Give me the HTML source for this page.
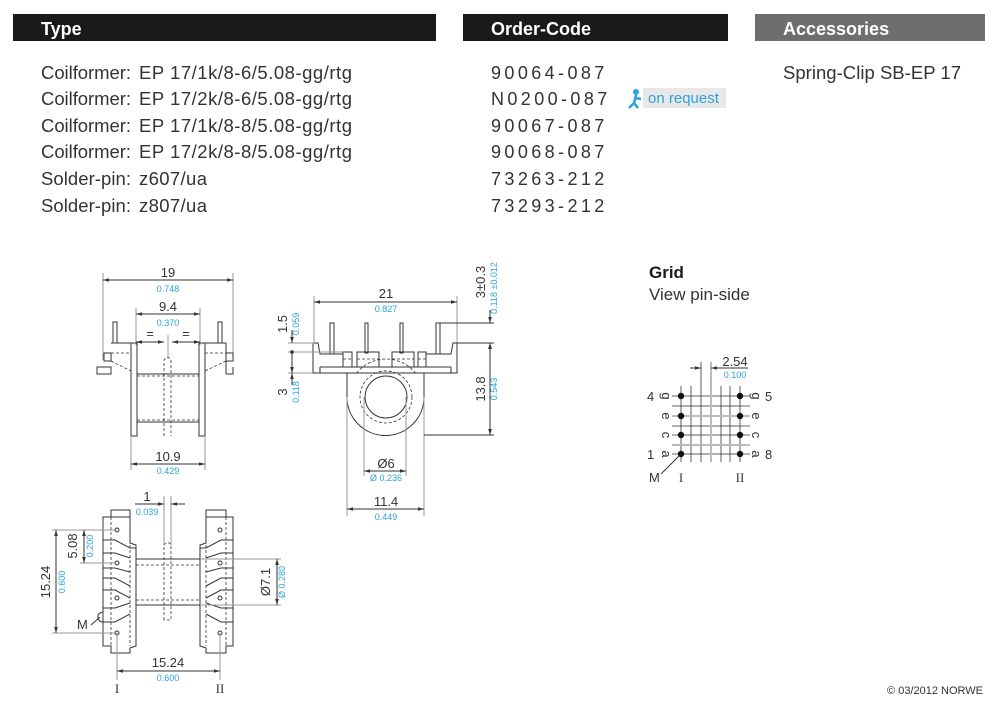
<!DOCTYPE html>
<html><head><meta charset="utf-8"><style>
body{margin:0;background:#fff;}
svg{display:block;font-family:"Liberation Sans",sans-serif;}
.t{font-size:18.5px;fill:#333;}
.c{font-size:18px;fill:#333;letter-spacing:3.4px;}
.k{stroke:#333;stroke-width:1;fill:none;}
.g{stroke:#999;stroke-width:1;fill:none;}
.d{stroke:#333;stroke-width:0.8;fill:none;stroke-dasharray:3 2;}
.n{font-size:13px;fill:#333;text-anchor:middle;}
.b{font-size:9px;fill:#2aa3dc;text-anchor:middle;}
</style></head><body>
<svg width="1000" height="713" viewBox="0 0 1000 713">
<defs><marker id="a" viewBox="0 0 10 10" refX="10" refY="5" markerWidth="6" markerHeight="6" orient="auto-start-reverse"><path d="M0,2 L10,5 L0,8z" fill="#333"/></marker></defs>
<rect x="13" y="14" width="423" height="27" fill="#1a1a1a"/>
<rect x="463" y="14" width="265" height="27" fill="#1a1a1a"/>
<rect x="755" y="14" width="230" height="27" fill="#6e6e6e"/>
<g font-weight="bold" font-size="18" fill="#fff"><text x="41" y="35">Type</text><text x="491" y="35">Order-Code</text><text x="783" y="35">Accessories</text></g>
<g class="t">
<text x="41" y="79" textLength="90">Coilformer:</text><text x="139" y="79" textLength="213">EP 17/1k/8-6/5.08-gg/rtg</text>
<text x="41" y="105" textLength="90">Coilformer:</text><text x="139" y="105" textLength="213">EP 17/2k/8-6/5.08-gg/rtg</text>
<text x="41" y="132" textLength="90">Coilformer:</text><text x="139" y="132" textLength="213">EP 17/1k/8-8/5.08-gg/rtg</text>
<text x="41" y="158" textLength="90">Coilformer:</text><text x="139" y="158" textLength="213">EP 17/2k/8-8/5.08-gg/rtg</text>
<text x="41" y="185" textLength="90">Solder-pin:</text><text x="139" y="185" textLength="68">z607/ua</text>
<text x="41" y="212" textLength="90">Solder-pin:</text><text x="139" y="212" textLength="68">z807/ua</text>
<text x="783" y="79" textLength="178">Spring-Clip SB-EP 17</text>
</g>
<g class="c"><text x="491" y="79">90064-087</text><text x="491" y="105">N0200-087</text><text x="491" y="132">90067-087</text><text x="491" y="158">90068-087</text><text x="491" y="185">73263-212</text><text x="491" y="212">73293-212</text></g>
<rect x="643" y="88" width="83" height="20" fill="#e8e8e8"/>
<circle cx="636" cy="92" r="3" fill="#2aa3dc"/><path d="M636,95 L634,103 L629,108 M634,103 L638,108 M635,98 L641,99" stroke="#2aa3dc" stroke-width="2.5" fill="none"/>
<text x="648" y="103" font-size="15" fill="#2aa3dc">on request</text>
<text x="649" y="278" font-size="17" font-weight="bold" fill="#1a1a1a">Grid</text>
<text x="649" y="300" font-size="17" fill="#333">View pin-side</text>

<!-- drawing 1 -->
<g>
<line class="g" x1="103" y1="273" x2="103" y2="360"/><line class="g" x1="233" y1="273" x2="233" y2="360"/>
<line class="k" x1="103" y1="280" x2="233" y2="280" marker-start="url(#a)" marker-end="url(#a)"/>
<text class="n" x="168" y="277">19</text><text class="b" x="168" y="292">0.748</text>
<line class="g" x1="136" y1="308" x2="136" y2="345"/><line class="g" x1="200" y1="308" x2="200" y2="345"/>
<line class="k" x1="136" y1="314" x2="200" y2="314" marker-start="url(#a)" marker-end="url(#a)"/>
<text class="n" x="168" y="311">9.4</text><text class="b" x="168" y="326">0.370</text>
<line class="k" x1="136" y1="342" x2="164" y2="342" marker-start="url(#a)" marker-end="url(#a)"/>
<line class="k" x1="172" y1="342" x2="200" y2="342" marker-start="url(#a)" marker-end="url(#a)"/>
<text class="n" x="150" y="338">=</text><text class="n" x="186" y="338">=</text>
<line class="g" x1="168" y1="335" x2="168" y2="358"/>
<rect class="k" x="113" y="322" width="4" height="21"/><rect class="k" x="218" y="322" width="4" height="21"/>
<path class="k" d="M111,343 H131 V374 M205,374 V343 H226 V374"/>
<rect class="k" x="104" y="353" width="7" height="8"/><rect class="k" x="226" y="353" width="7" height="8"/>
<path class="k" d="M97,367 H111 V374 H97 Z M233,367 V374 H226"/>
<path class="d" d="M111,353 H131 M205,353 H226 M111,361 L131,371 M226,361 L205,371"/>
<rect class="k" x="131" y="343" width="6" height="93"/><rect class="k" x="199" y="343" width="6" height="93"/>
<line class="k" x1="137" y1="374" x2="199" y2="374"/><line class="k" x1="137" y1="422" x2="199" y2="422"/>
<line class="d" x1="137" y1="376" x2="199" y2="376"/><line class="d" x1="137" y1="420" x2="199" y2="420"/>
<path class="d" d="M164,436 V360 Q168,355 171,360 V436"/>
<line class="g" x1="131" y1="436" x2="131" y2="470"/><line class="g" x1="205" y1="436" x2="205" y2="470"/>
<line class="k" x1="131" y1="464" x2="205" y2="464" marker-start="url(#a)" marker-end="url(#a)"/>
<text class="n" x="168" y="461">10.9</text><text class="b" x="168" y="474">0.429</text>
</g>

<!-- drawing 2 -->
<g>
<line class="g" x1="314" y1="296" x2="314" y2="343"/><line class="g" x1="457" y1="296" x2="457" y2="343"/>
<line class="k" x1="314" y1="302" x2="457" y2="302" marker-start="url(#a)" marker-end="url(#a)"/>
<text class="n" x="386" y="298">21</text><text class="b" x="386" y="312">0.827</text>
<circle class="d" cx="386" cy="397" r="26"/>
<circle class="d" cx="386" cy="397" r="38" stroke="#777"/>
<path d="M347,373 V397 A38.5,38.5 0 0 0 424,397 V373 Z" fill="#fff" stroke="#333"/>
<circle class="d" cx="386" cy="397" r="26"/>
<circle class="k" cx="386" cy="397" r="21"/>
<rect class="k" x="330" y="323" width="4" height="31"/><rect class="k" x="365" y="323" width="3" height="30"/><rect class="k" x="400" y="323" width="3" height="30"/><rect class="k" x="436" y="323" width="4" height="31"/>
<path class="k" d="M313,373 V343 H318 L320,354 H343"/>
<path class="k" d="M426,354 H451 L453,343 H457 V373 H313"/>
<line class="k" x1="320" y1="367" x2="451" y2="367"/><line class="k" x1="320" y1="367" x2="320" y2="373"/><line class="k" x1="451" y1="367" x2="451" y2="373"/>
<rect class="k" x="343" y="352" width="9" height="15"/><rect class="k" x="357" y="352" width="22" height="15"/><rect class="k" x="392" y="352" width="22" height="15"/><rect class="k" x="418" y="352" width="8" height="15"/>
<path class="d" d="M343,359 H352 M357,359 H379 M392,359 H414 M418,359 H426"/>
<line class="g" x1="364" y1="397" x2="364" y2="476"/><line class="g" x1="406" y1="397" x2="406" y2="476"/>
<line class="k" x1="364" y1="471" x2="406" y2="471" marker-start="url(#a)" marker-end="url(#a)"/>
<text class="n" x="386" y="468">Ø6</text><text class="b" x="386" y="481">Ø 0.236</text>
<line class="g" x1="347" y1="397" x2="347" y2="516"/><line class="g" x1="424" y1="397" x2="424" y2="516"/>
<line class="k" x1="347" y1="509" x2="424" y2="509" marker-start="url(#a)" marker-end="url(#a)"/>
<text class="n" x="386" y="506">11.4</text><text class="b" x="386" y="520">0.449</text>
<line class="k" x1="440" y1="323" x2="494" y2="323"/><line class="k" x1="457" y1="343" x2="494" y2="343"/><line class="k" x1="424" y1="435" x2="494" y2="435"/>
<line class="k" x1="490" y1="310" x2="490" y2="323" marker-end="url(#a)"/><line class="k" x1="490" y1="356" x2="490" y2="343" marker-end="url(#a)"/>
<line class="k" x1="490" y1="343" x2="490" y2="435" marker-start="url(#a)" marker-end="url(#a)"/>
<text class="n" transform="translate(485,282) rotate(-90)">3±0.3</text>
<text class="b" transform="translate(497,288) rotate(-90)">0.118 ±0.012</text>
<text class="n" transform="translate(485,389) rotate(-90)">13.8</text>
<text class="b" transform="translate(497,389) rotate(-90)">0.543</text>
<line class="g" x1="288" y1="343" x2="314" y2="343"/><line class="g" x1="288" y1="352" x2="343" y2="352"/><line class="g" x1="288" y1="373" x2="313" y2="373"/>
<line class="k" x1="292" y1="330" x2="292" y2="343" marker-end="url(#a)"/><circle cx="292" cy="352" r="1.8" fill="#333"/>
<line class="k" x1="292" y1="352" x2="292" y2="373" marker-end="url(#a)"/><line class="k" x1="292" y1="385" x2="292" y2="373" marker-end="url(#a)"/>
<text class="n" transform="translate(287,324) rotate(-90)">1.5</text><text class="b" transform="translate(299,324) rotate(-90)">0.059</text>
<text class="n" transform="translate(287,392) rotate(-90)">3</text><text class="b" transform="translate(299,392) rotate(-90)">0.118</text>
</g>

<!-- drawing 3 -->
<g>
<line class="g" x1="164" y1="496" x2="164" y2="545"/><line class="g" x1="171" y1="496" x2="171" y2="545"/>
<line class="k" x1="135" y1="504" x2="164" y2="504" marker-end="url(#a)"/><line class="k" x1="185" y1="504" x2="171" y2="504" marker-end="url(#a)"/>
<text class="n" x="147" y="501">1</text><text class="b" x="147" y="515">0.039</text>
<path class="k" d="M111,510 H130 V517 H111 Z M103,517 H130 V543 L136,545 V646 L130,648 V653 H111 V646 H103 Z"/>
<path class="k" d="M206,510 H226 V517 H206 Z M206,517 H233 V646 H226 V653 H206 V648 L200,646 V545 L206,543 Z"/>
<path class="d" d="M111,517 V646 M226,517 V646 M130,545 V646 M206,545 V646"/>
<path class="k" d="M103,540 H115 L130,548 H136 M103,553 H115 L130,558 M103,568 H115 L130,572 M103,578 H115 L130,586 M103,590 H115 L130,598 M103,608 H115 L130,603 M103,622 H115 L130,614"/>
<path class="k" d="M233,540 H221 L206,548 H200 M233,553 H221 L206,558 M233,568 H221 L206,572 M233,578 H221 L206,586 M233,590 H221 L206,598 M233,608 H221 L206,603 M233,622 H221 L206,614"/>
<circle class="k" cx="117" cy="530" r="2"/><circle class="k" cx="117" cy="563" r="2"/><circle class="k" cx="117" cy="598" r="2"/><circle class="k" cx="117" cy="633" r="2"/>
<circle class="k" cx="220" cy="530" r="2"/><circle class="k" cx="220" cy="563" r="2"/><circle class="k" cx="220" cy="598" r="2"/><circle class="k" cx="220" cy="633" r="2"/>
<line class="k" x1="136" y1="559" x2="200" y2="559"/><line class="k" x1="136" y1="605" x2="200" y2="605"/>
<line class="d" x1="136" y1="565" x2="200" y2="565"/><line class="d" x1="136" y1="600" x2="200" y2="600"/>
<path class="d" d="M164,620 V545 Q168,540 171,545 V620 Z"/>
<path class="k" d="M103,612 Q97,613 98,618 Q99,622 103,622"/>
<line class="k" x1="91" y1="625" x2="100" y2="617"/><text x="77" y="629" font-size="13" fill="#333">M</text>
<line class="g" x1="52" y1="530" x2="117" y2="530"/><line class="g" x1="80" y1="563" x2="117" y2="563"/><line class="g" x1="52" y1="633" x2="117" y2="633"/>
<line class="k" x1="84" y1="530" x2="84" y2="563" marker-start="url(#a)" marker-end="url(#a)"/>
<line class="k" x1="56" y1="530" x2="56" y2="633" marker-start="url(#a)" marker-end="url(#a)"/>
<text class="n" transform="translate(77,546) rotate(-90)">5.08</text><text class="b" transform="translate(93,546) rotate(-90)">0.200</text>
<text class="n" transform="translate(50,582) rotate(-90)">15.24</text><text class="b" transform="translate(65,582) rotate(-90)">0.600</text>
<line class="g" x1="200" y1="559" x2="281" y2="559"/><line class="g" x1="200" y1="605" x2="281" y2="605"/>
<line class="k" x1="277" y1="559" x2="277" y2="605" marker-start="url(#a)" marker-end="url(#a)"/>
<text class="n" transform="translate(270,582) rotate(-90)">Ø7.1</text><text class="b" transform="translate(285,582) rotate(-90)">Ø 0.280</text>
<line class="g" x1="117" y1="633" x2="117" y2="680"/><line class="g" x1="220" y1="633" x2="220" y2="680"/>
<line class="k" x1="117" y1="671" x2="220" y2="671" marker-start="url(#a)" marker-end="url(#a)"/>
<text class="n" x="168" y="667">15.24</text><text class="b" x="168" y="681">0.600</text>
<g font-family="Liberation Serif,serif" font-size="13" fill="#333" text-anchor="middle"><text x="117" y="693">I</text><text x="220" y="693">II</text></g>
</g>

<!-- grid -->
<g>
<g stroke="#333" stroke-width="0.8">
<line x1="681" y1="386" x2="681" y2="462"/><line x1="691" y1="386" x2="691" y2="462"/><line x1="701" y1="362" x2="701" y2="462"/><line x1="721" y1="386" x2="721" y2="462"/><line x1="730" y1="386" x2="730" y2="462"/><line x1="740" y1="386" x2="740" y2="462"/>
<line x1="672" y1="396" x2="750" y2="396"/><line x1="672" y1="406" x2="750" y2="406"/><line x1="672" y1="426" x2="750" y2="426"/><line x1="672" y1="435" x2="750" y2="435"/><line x1="672" y1="454" x2="750" y2="454"/>
</g>
<g stroke="#bbb" stroke-width="2"><line x1="711" y1="362" x2="711" y2="462"/><line x1="672" y1="416" x2="750" y2="416"/><line x1="672" y1="445" x2="750" y2="445"/></g>
<line class="k" x1="690" y1="368" x2="701" y2="368" marker-end="url(#a)"/><line class="k" x1="722" y1="368" x2="711" y2="368" marker-end="url(#a)"/>
<line class="k" x1="711" y1="368" x2="748" y2="368"/>
<text x="735" y="366" font-size="13" fill="#333" text-anchor="middle">2.54</text><text class="b" x="735" y="378">0.100</text>
<g fill="#111"><circle cx="681" cy="396" r="3.2"/><circle cx="681" cy="416" r="3.2"/><circle cx="681" cy="435" r="3.2"/><circle cx="681" cy="454" r="3.2"/><circle cx="740" cy="396" r="3.2"/><circle cx="740" cy="416" r="3.2"/><circle cx="740" cy="435" r="3.2"/><circle cx="740" cy="454" r="3.2"/></g>
<g font-size="13" fill="#333"><text x="647" y="401">4</text><text x="647" y="459">1</text><text x="765" y="401">5</text><text x="765" y="459">8</text></g>
<g font-size="13" fill="#333" text-anchor="middle">
<text transform="translate(666,396) rotate(90)" dy="4">g</text><text transform="translate(666,416) rotate(90)" dy="4">e</text><text transform="translate(666,435) rotate(90)" dy="4">c</text><text transform="translate(666,454) rotate(90)" dy="4">a</text>
<text transform="translate(756,396) rotate(90)" dy="4">g</text><text transform="translate(756,416) rotate(90)" dy="4">e</text><text transform="translate(756,435) rotate(90)" dy="4">c</text><text transform="translate(756,454) rotate(90)" dy="4">a</text>
</g>
<line class="k" x1="661" y1="474" x2="679" y2="456"/>
<text x="649" y="482" font-size="13" fill="#333">M</text>
<g font-family="Liberation Serif,serif" font-size="13" fill="#333" text-anchor="middle"><text x="681" y="482">I</text><text x="740" y="482">II</text></g>
</g>
<text x="983" y="694" font-size="11" fill="#333" text-anchor="end">© 03/2012 NORWE</text>
</svg>
</body></html>
